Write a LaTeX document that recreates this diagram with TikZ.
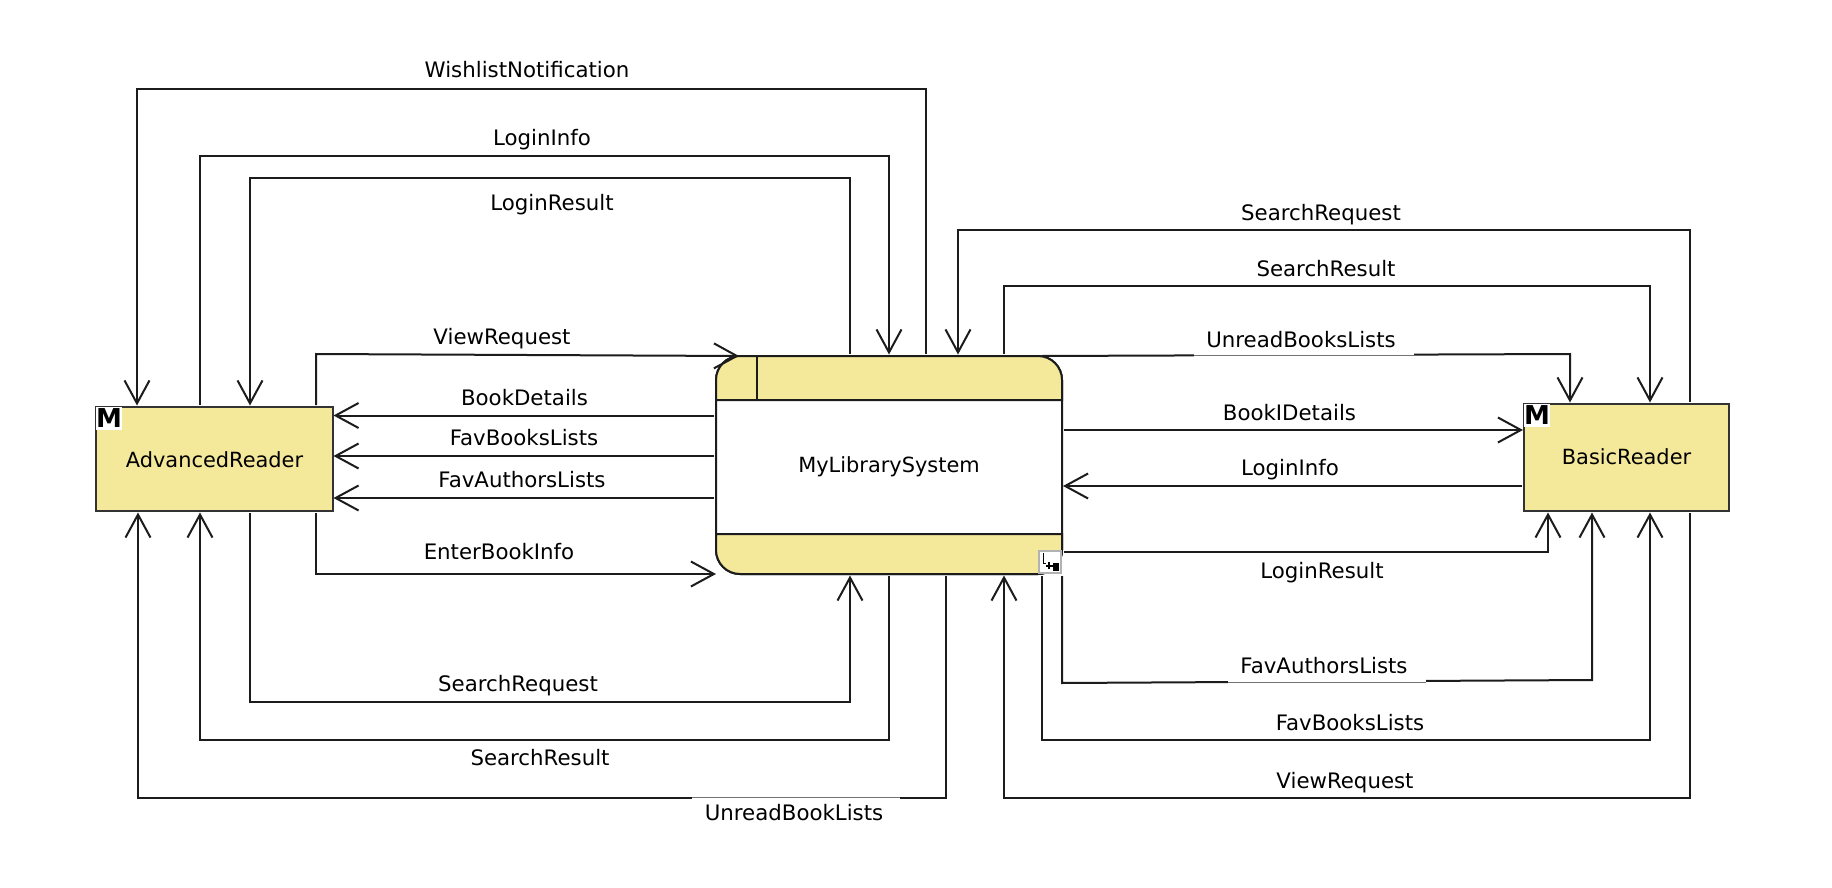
\documentclass[tikz,border=0pt]{standalone}
\usepackage{fontspec}
\setmainfont{DejaVu Sans}
\usetikzlibrary{arrows.meta}
\definecolor{boxyellow}{HTML}{F4E89A}
\definecolor{ink}{HTML}{1C1C1C}
\tikzset{
  x=1pt,y=-1pt,
  flow/.style={draw=ink,line width=2pt,line join=miter,-{Straight Barb[length=23pt,width=25pt,line width=2pt]}},
  entitybox/.style={rectangle,draw=ink!90,fill=boxyellow,line width=2pt,inner sep=0pt,outer sep=0pt,font=\fontsize{20.9}{24}\selectfont},
  procbox/.style={rectangle,draw=ink,fill=white,line width=2pt,inner sep=0pt,outer sep=0pt,rounded corners=24pt,font=\fontsize{20.9}{24}\selectfont,minimum width=346pt,minimum height=218pt},
  flowlabel/.style={inner sep=0pt,text=black,font=\fontsize{21.3}{24}\selectfont,text height=18pt,text depth=4pt},
  gapmask/.style={fill=white,draw=none},
  hairline/.style={draw=black!55,line width=0.7pt},
  badge/.style={rectangle,fill=white,inner sep=0pt,outer sep=0pt,minimum width=23pt,minimum height=23pt,font=\bfseries\fontsize{26}{26}\selectfont,text=black},
}
\begin{document}
\begin{tikzpicture}
\useasboundingbox (0,0) rectangle (1832,888);
\fill[white] (0,0) rectangle (1832,888);

% nodes
\node[entitybox,minimum width=237pt,minimum height=104pt,text height=18pt] (adv) at (214.5,459) {AdvancedReader};
\node[entitybox,minimum width=205pt,minimum height=107pt,text depth=2pt] (basic) at (1626.5,457.5) {BasicReader};
\node[procbox,text height=19pt] (sys) at (889,465) {MyLibrarySystem};

% process bands
\filldraw[fill=boxyellow,draw=ink,line width=2pt]
  ([yshift=-44pt]sys.north west) [rounded corners=24pt] -- (sys.north west) -- (sys.north east) [sharp corners] -- ([yshift=-44pt]sys.north east) -- cycle;
\filldraw[fill=boxyellow,draw=ink,line width=2pt]
  ([yshift=40pt]sys.south west) [rounded corners=24pt] -- (sys.south west) -- (sys.south east) [sharp corners] -- ([yshift=40pt]sys.south east) -- cycle;
\draw[ink,line width=2pt] ([xshift=41pt]sys.north west) -- ([xshift=41pt,yshift=-44pt]sys.north west);

% connectors, AdvancedReader top
\draw[flow] ([xshift=210pt,yshift=2pt]sys.north west) -- (926,89) -- (137,89) -- ([xshift=41pt,yshift=1.5pt]adv.north west);
\draw[flow] ([xshift=104pt,yshift=2pt]adv.north west) -- (200,156) -- (889,156) -- ([xshift=173pt,yshift=1.5pt]sys.north west);
\draw[flow] ([xshift=134pt,yshift=2pt]sys.north west) -- (850,178) -- (250,178) -- ([xshift=154pt,yshift=1.5pt]adv.north west);
\draw[flow] ([xshift=220pt,yshift=2pt]adv.north west) -- (316,354) -- ([xshift=23pt]sys.north west);
% connectors, AdvancedReader side
\draw[flow] ([yshift=-59.5pt,xshift=-2pt]sys.north west) -- ([yshift=-8.5pt,xshift=0.5pt]adv.north east);
\draw[flow] ([yshift=-100pt,xshift=-2pt]sys.north west) -- ([yshift=-49pt,xshift=0.5pt]adv.north east);
\draw[flow] ([yshift=-142pt,xshift=-2pt]sys.north west) -- ([yshift=-91pt,xshift=0.5pt]adv.north east);
% connectors, AdvancedReader bottom
\draw[flow] ([xshift=220pt,yshift=-2pt]adv.south west) -- (316,574) -- (sys.south west);
\draw[flow] ([xshift=154pt,yshift=-2pt]adv.south west) -- (250,702) -- (850,702) -- ([xshift=134pt,yshift=-1.5pt]sys.south west);
\draw[flow] ([xshift=173pt,yshift=-2pt]sys.south west) -- (889,740) -- (200,740) -- ([xshift=104pt,yshift=-1.5pt]adv.south west);
\draw[flow] ([xshift=230pt,yshift=-2pt]sys.south west) -- (946,798) -- (138,798) -- ([xshift=42pt,yshift=-1.5pt]adv.south west);

% connectors, BasicReader top
\draw[flow] ([xshift=166pt,yshift=2pt]basic.north west) -- (1690,230) -- (958,230) -- ([xshift=242pt,yshift=1.5pt]sys.north west);
\draw[flow] ([xshift=288pt,yshift=2pt]sys.north west) -- (1004,286) -- (1650,286) -- ([xshift=126pt,yshift=1.5pt]basic.north west);
\draw[flow] ([xshift=-20pt]sys.north east) -- (1570,354) -- ([xshift=46pt,yshift=1.5pt]basic.north west);
% connectors, BasicReader side
\draw[flow] ([yshift=-74pt,xshift=2pt]sys.north east) -- ([yshift=-26pt,xshift=-1pt]basic.north west);
\draw[flow] ([yshift=-82pt,xshift=-2pt]basic.north west) -- ([yshift=-130pt,xshift=1pt]sys.north east);
% connectors, BasicReader bottom
\draw[flow] ([yshift=22pt,xshift=2pt]sys.south east) -- (1548,552) -- ([xshift=24pt,yshift=-1.5pt]basic.south west);
\draw[flow] ([yshift=-2pt]sys.south east) -- (1062,683) -- (1592,680) -- ([xshift=68pt,yshift=-1.5pt]basic.south west);
\draw[flow] ([xshift=326pt,yshift=-2pt]sys.south west) -- (1042,740) -- (1650,740) -- ([xshift=126pt,yshift=-1.5pt]basic.south west);
\draw[flow] ([xshift=166pt,yshift=-2pt]basic.south west) -- (1690,798) -- (1004,798) -- ([xshift=288pt,yshift=-1.5pt]sys.south west);

% label masks over lines
\fill[gapmask] (692,795) rectangle (900,802);
\draw[hairline] (692,797) -- (900,797);
\fill[gapmask] (1194,351) rectangle (1414,358);
\draw[hairline] (1194,355.5) -- (1414,355.5);
\fill[gapmask] (1228,678) rectangle (1426,685);
\draw[hairline] (1228,682) -- (1426,682);

% labels
\node[flowlabel] (l1) at (527,71) {WishlistNotification};
\node[flowlabel] (l2) at (542,139) {LoginInfo};
\node[flowlabel] (l3) at (552,203) {LoginResult};
\node[flowlabel] (l4) at (502,337) {ViewRequest};
\node[flowlabel] (l5) at (524.5,398) {BookDetails};
\node[flowlabel] (l6) at (524,438) {FavBooksLists};
\node[flowlabel] (l7) at (522,480) {FavAuthorsLists};
\node[flowlabel] (l8) at (499,552) {EnterBookInfo};
\node[flowlabel] (l9) at (518,684) {SearchRequest};
\node[flowlabel] (l10) at (540,758) {SearchResult};
\node[flowlabel] (l11) at (794,813) {UnreadBookLists};
\node[flowlabel] (l12) at (1321,213) {SearchRequest};
\node[flowlabel] (l13) at (1326,269) {SearchResult};
\node[flowlabel] (l14) at (1301,340) {UnreadBooksLists};
\node[flowlabel] (l15) at (1289.5,413) {BookIDetails};
\node[flowlabel] (l16) at (1290,468) {LoginInfo};
\node[flowlabel] (l17) at (1322,571) {LoginResult};
\node[flowlabel] (l18) at (1324,666) {FavAuthorsLists};
\node[flowlabel] (l19) at (1350,723) {FavBooksLists};
\node[flowlabel] (l20) at (1345,781) {ViewRequest};

% badges
\node[badge,anchor=north west] (ba) at (adv.north west) {M};
\node[badge,anchor=north west] (bb) at (basic.north west) {M};
\node[rectangle,draw=black!30,fill=white,line width=1.2pt,inner sep=0pt,outer sep=0pt,minimum width=22pt,minimum height=22pt,anchor=south east] (ic) at ([xshift=-1pt,yshift=1pt]sys.south east) {};
\draw[black,line width=1pt] ([xshift=4pt,yshift=-2pt]ic.north west) -- ([xshift=4pt,yshift=-12pt]ic.north west) -- ([xshift=7pt,yshift=-12pt]ic.north west);
\draw[black,line width=1.5pt] ([xshift=7pt,yshift=-15pt]ic.north west) -- ([xshift=14pt,yshift=-15pt]ic.north west);
\draw[black,line width=1.5pt] ([xshift=10pt,yshift=-11pt]ic.north west) -- ([xshift=10pt,yshift=-18pt]ic.north west);
\fill[black] ([xshift=14pt,yshift=-12pt]ic.north west) rectangle ([xshift=20pt,yshift=-20pt]ic.north west);
\end{tikzpicture}
\end{document}
